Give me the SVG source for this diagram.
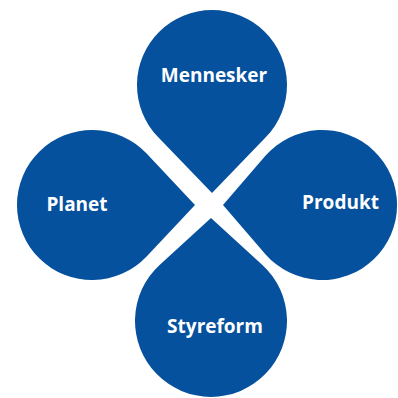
<svg xmlns="http://www.w3.org/2000/svg" width="398" height="398" viewBox="0 0 398 398">
<style>
.drop{fill:#05519e}
.lbl{fill:#fff;font-family:"Open Sans","Noto Sans",sans-serif;font-weight:bold;font-size:19px;text-anchor:middle}
</style>
<rect width="398" height="398" fill="#fff"/>
<g id="connectors"/>
<g id="mennesker">
<path class="drop" d="M212,193 L158.05,137.1 A75,75 0 1 1 265.95,137.1 Z"/>
<text class="lbl" x="214" y="82">Mennesker</text>
</g>
<g id="planet">
<path class="drop" d="M195,205 L146.6,256.4 A75,75 0 1 1 146.6,153.6 Z"/>
<text class="lbl" x="77" y="211">Planet</text>
</g>
<g id="produkt">
<path class="drop" d="M223,205 L265.2,156.1 A75,75 0 1 1 265.2,253.9 Z"/>
<text class="lbl" x="340.5" y="209">Produkt</text>
</g>
<g id="styreform">
<path class="drop" d="M211,218 L262.4,264.9 A76,76 0 1 1 159.6,264.9 Z"/>
<text class="lbl" x="215" y="333">Styreform</text>
</g>
</svg>
